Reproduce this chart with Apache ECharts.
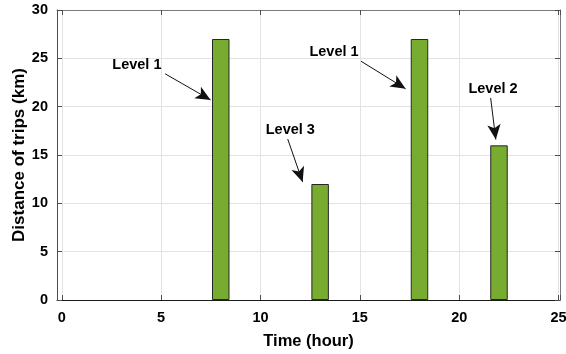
<!DOCTYPE html>
<html>
<head>
<meta charset="utf-8">
<script src="https://cdn.jsdelivr.net/npm/echarts@6/dist/echarts.min.js"></script>
<style>
  html, body { margin: 0; padding: 0; background: #fff; }
  #chart { width: 566px; height: 354px; }
</style>
</head>
<body>
<div id="chart"></div>
<script>
// Trip distances by hour of day
const hours = [8, 13, 18, 22];
const distances = [27, 12, 27, 16];

// Callout labels and their arrows, in data coordinates (hour, km)
const calloutText = ['Level 1', 'Level 3', 'Level 1', 'Level 2'];
const calloutX = [3.78, 11.5, 13.7, 21.7];
const calloutY = [24.35, 17.55, 25.65, 21.8];
const arrowFromX = [5.2, 11.37, 15.06, 21.58];
const arrowFromY = [23.4, 16.65, 24.7, 20.9];
const arrowToX = [7.49, 12.12, 17.3, 21.84];
const arrowToY = [20.7, 12.2, 21.85, 16.6];

const yTicks = [0, 5, 10, 15, 20, 25, 30];

const FONT = 'Liberation Sans, Arial, sans-serif';
const boxColor = '#4d4d4d';

const chart = echarts.init(document.getElementById('chart'), null, { renderer: 'canvas' });

const barData = hours.map((h, i) => [h, distances[i]]);
const labelData = calloutText.map((t, i) => ({ name: t, value: [calloutX[i], calloutY[i]] }));
const arrowData = calloutText.map((t, i) => [
  { coord: [arrowFromX[i], arrowFromY[i]] },
  { coord: [arrowToX[i], arrowToY[i]] }
]);

const xMin = -0.24, xMax = 25.07;
const keepFive = v => (Math.abs(v - Math.round(v / 5) * 5) < 1e-6 ? String(Math.round(v)) : '');

chart.setOption({
  animation: false,
  backgroundColor: '#ffffff',
  grid: { left: 57, right: 6, top: 10, bottom: 54, containLabel: false, outerBoundsMode: 'none' },
  xAxis: [
    {
      type: 'value', min: xMin, max: xMax, position: 'bottom',
      name: 'Time (hour)', nameLocation: 'middle', nameGap: 33,
      nameTextStyle: { fontFamily: FONT, fontWeight: 'bold', fontSize: 16.5, color: '#000' },
      axisLine: { show: true, onZero: false, lineStyle: { color: '#1a1a1a', width: 1 } },
      axisTick: { show: true, inside: true, length: 5, lineStyle: { color: boxColor } },
      axisLabel: { formatter: keepFive, fontFamily: FONT, fontWeight: 'bold', fontSize: 14.5, color: '#000', margin: 10 },
      splitLine: { show: true, lineStyle: { color: '#e3e3e3', width: 1 } }
    },
    {
      type: 'value', min: xMin, max: xMax, position: 'top',
      axisLine: { show: true, onZero: false, lineStyle: { color: '#7a7a7a', width: 1 } },
      axisTick: { show: true, inside: true, length: 5, lineStyle: { color: boxColor } },
      axisLabel: { show: false },
      splitLine: { show: false }
    }
  ],
  yAxis: [
    {
      type: 'value', min: yTicks[0], max: yTicks[yTicks.length - 1], interval: 5, position: 'left',
      name: 'Distance of trips (km)', nameLocation: 'middle', nameGap: 29, nameMoveOverlap: false,
      nameTextStyle: { fontFamily: FONT, fontWeight: 'bold', fontSize: 17, color: '#000' },
      axisLine: { show: true, onZero: false, lineStyle: { color: boxColor, width: 1 } },
      axisTick: { show: true, inside: true, length: 5, lineStyle: { color: boxColor } },
      axisLabel: { fontFamily: FONT, fontWeight: 'bold', fontSize: 14.5, color: '#000', margin: 9 },
      splitLine: { show: true, lineStyle: { color: '#e3e3e3', width: 1 } }
    },
    {
      type: 'value', min: yTicks[0], max: yTicks[yTicks.length - 1], interval: 5, position: 'right',
      axisLine: { show: true, onZero: false, lineStyle: { color: '#7a7a7a', width: 1 } },
      axisTick: { show: true, inside: true, length: 5, lineStyle: { color: boxColor } },
      axisLabel: { show: false },
      splitLine: { show: false }
    }
  ],
  series: [
    {
      type: 'bar',
      xAxisIndex: 0, yAxisIndex: 0,
      data: barData,
      barWidth: 17.5,
      itemStyle: { color: '#77ac30', borderColor: '#262626', borderWidth: 1 },
      z: 3,
      markLine: {
        silent: true,
        animation: false,
        symbol: ['none', 'arrow'],
        symbolSize: [10, 15],
        label: { show: false },
        lineStyle: { color: '#111', width: 1, type: 'solid' },
        emphasis: { disabled: true },
        data: arrowData
      }
    },
    {
      type: 'scatter',
      xAxisIndex: 0, yAxisIndex: 0,
      data: labelData,
      symbolSize: 0,
      silent: true,
      z: 5,
      itemStyle: { opacity: 1 },
      label: {
        show: true, position: 'inside', formatter: p => p.name,
        fontFamily: FONT, fontWeight: 'bold', fontSize: 14.5, color: '#000',
        opacity: 1, textBorderWidth: 0
      }
    }
  ]
});
</script>
</body>
</html>
